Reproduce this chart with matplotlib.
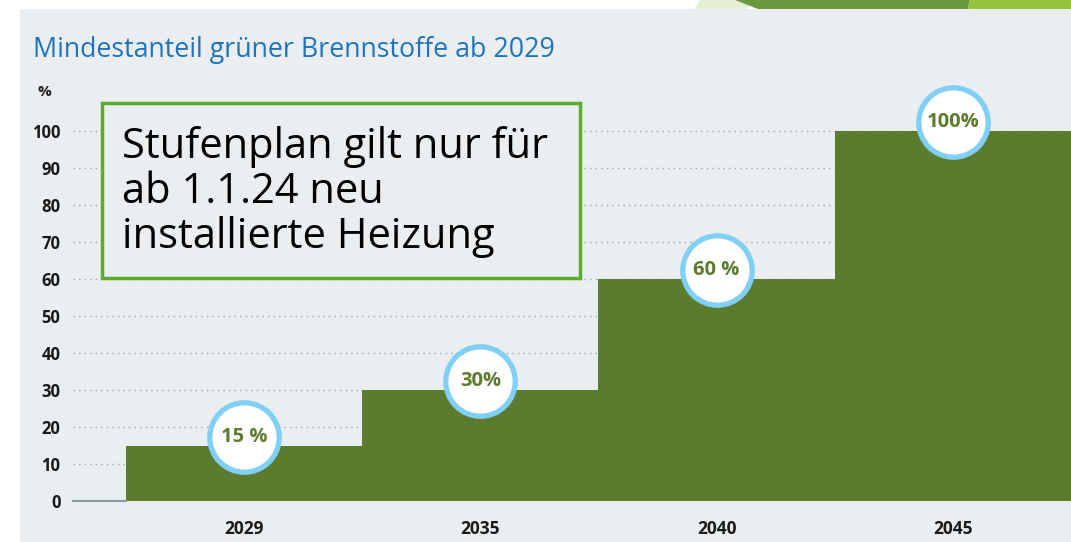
import matplotlib.pyplot as plt
import matplotlib.patches as patches

years = ["2029", "2035", "2040", "2045"]
shares = [15, 30, 60, 100]
labels = ["15 %", "30%", "60 %", "100%"]
yticks = [0, 10, 20, 30, 40, 50, 60, 70, 80, 90, 100]

green = "#5b7c2f"
panel = "#eaeef1"
blue = "#80cff5"

plt.rcParams["font.family"] = ["Open Sans", "DejaVu Sans"]

W, H = 1071, 542
fig = plt.figure(figsize=(W / 100, H / 100), dpi=100)
fig.patch.set_facecolor("white")

# grey panel behind the chart
fig.patches.append(patches.Rectangle((20 / W, 0), 1, 1 - 9 / H, transform=fig.transFigure,
                                     facecolor=panel, edgecolor="none", zorder=-5))
# slide decoration at the top right
fig.patches.append(patches.Polygon([(700 / W, 1), (760 / W, 1), (745 / W, 1 - 9 / H), (695 / W, 1 - 9 / H)],
                                   transform=fig.transFigure, facecolor="#e5efd2", edgecolor="none", zorder=-4))
fig.patches.append(patches.Polygon([(735 / W, 1), (970 / W, 1), (968 / W, 1 - 9 / H), (758 / W, 1 - 9 / H)],
                                   transform=fig.transFigure, facecolor="#699a3e", edgecolor="none", zorder=-4))
fig.patches.append(patches.Polygon([(970 / W, 1), (1, 1), (1, 1 - 9 / H), (968 / W, 1 - 9 / H)],
                                   transform=fig.transFigure, facecolor="#93c43b", edgecolor="none", zorder=-4))

ax = fig.add_axes([73 / W, 41 / H, 1 - 73 / W, 110 * 3.7 / H])
ax.set_facecolor("none")

x = list(range(len(years)))
ax.bar(x, shares, width=1.0, align="edge", color=green, zorder=2)
ax.set_xlim(-0.224, 4.0)
ax.set_ylim(0, 110)

for v in yticks[1:]:
    ax.axhline(v, color="#9aa3a9", linestyle=(0, (1, 3)), linewidth=1.0, zorder=1)
ax.plot([-0.224, 0], [0, 0], color="#8a9aa5", linewidth=1.5, zorder=2, clip_on=False)

for s in ax.spines.values():
    s.set_visible(False)
ax.set_yticks(yticks)
ax.set_yticklabels([str(v) for v in yticks], fontsize=12, fontweight="bold", color="#1a1a1a")
ax.tick_params(axis="y", length=0, pad=9)
ax.set_xticks([i + 0.5 for i in x])
ax.set_xticklabels(years, fontsize=12.5, fontweight="bold", color="#1a1a1a")
ax.tick_params(axis="x", length=0, pad=14)

for i, (v, lab) in enumerate(zip(shares, labels)):
    ax.plot(i + 0.5, v + 2.3, marker="o", markersize=50, markerfacecolor="white",
            markeredgecolor=blue, markeredgewidth=3.8, zorder=5, clip_on=False)
    ax.text(i + 0.5, v + 2.3, lab, ha="center", va="center", fontsize=14.5,
            fontweight="bold", color=green, zorder=6)

fig.text(33 / W, 1 - 50 / H, "Mindestanteil grüner Brennstoffe ab 2029", fontsize=19.3,
         color="#1f74b9", va="center", ha="left")
fig.text(37 / W, 1 - 92 / H, "%", fontsize=11, fontweight="bold", color="#1a1a1a",
         va="center", ha="left")

# annotation box
fig.patches.append(patches.Rectangle((102 / W, 1 - 278 / H), 478 / W, 175 / H, transform=fig.transFigure,
                                     facecolor=panel, edgecolor="#5aab2e", linewidth=2.5, zorder=8))
fig.text(122 / W, 1 - 192 / H, "Stufenplan gilt nur für\nab 1.1.24 neu\ninstallierte Heizung",
         fontsize=30, color="black", va="center", ha="left", linespacing=1.1, zorder=9)

fig.savefig("out.png", dpi=100, facecolor=fig.get_facecolor())
